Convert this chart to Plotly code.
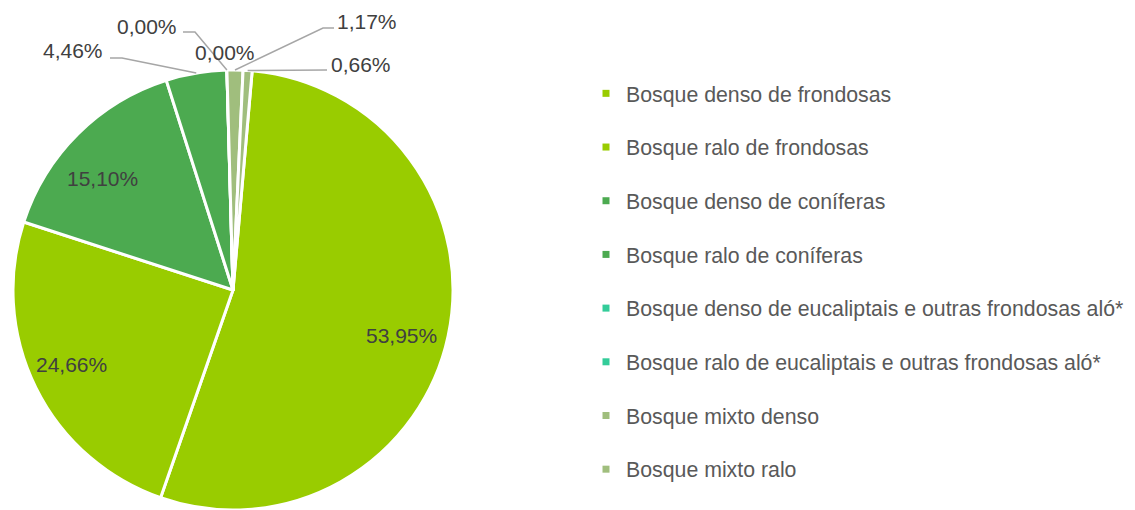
import math
import plotly.graph_objects as go

# ---------------- data ----------------
categories = [
    "Bosque denso de frondosas",
    "Bosque ralo de frondosas",
    "Bosque denso de coníferas",
    "Bosque ralo de coníferas",
    "Bosque denso de eucaliptais e outras frondosas aló*",
    "Bosque ralo de eucaliptais e outras frondosas aló*",
    "Bosque mixto denso",
    "Bosque mixto ralo",
]
shares = [53.95, 24.66, 15.10, 4.46, 0.00, 0.00, 1.17, 0.66]
colors = ["#99CC00", "#99CC00", "#4CAA50", "#4CAA50",
          "#33CC99", "#33CC99", "#A0BE7D", "#A0BE7D"]

# ---------------- layout constants ----------------
W, H = 1135, 510
CX, CY, R = 233, 290, 220          # pie centre / radius in pixels
ROTATION = 5                        # first slice starts 5 deg clockwise from 12 o'clock
FONT = "Liberation Sans, Arial, sans-serif"
LABEL_COLOR = "#404040"
LEGEND_COLOR = "#595959"
LINE_COLOR = "#A6A6A6"

# data-label text centres (pixels) and leader-line elbow points
label_pos = {
    0: dict(text=(401.5, 335), elbow=None),
    1: dict(text=(71.5, 364), elbow=None),
    2: dict(text=(102, 178), elbow=None),
    3: dict(text=(72.5, 51), elbow=[(110, 58), (122, 58)]),
    4: dict(text=(147, 26), elbow=[(183, 32), (195, 32)]),
    5: dict(text=(225, 53), elbow=None),
    6: dict(text=(367, 22), elbow=[(334, 28), (323, 28)]),
    7: dict(text=(361, 64), elbow=[(327, 70)]),
}


def px_to_paper(x, y):
    return x / W, 1 - y / H


def fmt(v):
    return f"{v:.2f}".replace(".", ",") + "%"


total = sum(shares)
fig = go.Figure()

fig.add_trace(go.Pie(
    labels=categories,
    values=shares,
    sort=False,
    direction="clockwise",
    rotation=ROTATION,
    marker=dict(colors=colors, line=dict(color="white", width=3)),
    textinfo="none",
    hoverinfo="label+percent",
    showlegend=False,
    domain=dict(x=[(CX - R) / W, (CX + R) / W], y=[(H - CY - R) / H, (H - CY + R) / H]),
))

# legend entries (one group each so spacing can be controlled)
for name, col in zip(categories, colors):
    fig.add_trace(go.Scatter(
        x=[None], y=[None], mode="markers", name=name, legendgroup=name,
        marker=dict(symbol="square", size=7, color=col),
    ))

annotations = []
shapes = []
cum = 0.0
for i, v in enumerate(shares):
    a0 = ROTATION + 360 * cum / total
    mid = math.radians(a0 + 180 * v / total)
    cum += v
    tx, ty = label_pos[i]["text"]
    elbow = label_pos[i]["elbow"]
    if elbow:
        ex, ey = CX + R * math.sin(mid), CY - R * math.cos(mid)
        pts = elbow + [(ex, ey)]
        path = "M " + " L ".join(
            f"{px_to_paper(x, y)[0]:.5f},{px_to_paper(x, y)[1]:.5f}" for x, y in pts)
        shapes.append(dict(type="path", path=path, xref="paper", yref="paper",
                           line=dict(color=LINE_COLOR, width=1.5)))
    px, py = px_to_paper(tx, ty)
    annotations.append(dict(
        x=px, y=py, xref="paper", yref="paper", text=fmt(v), showarrow=False,
        xanchor="center", yanchor="middle",
        font=dict(family=FONT, size=21, color=LABEL_COLOR),
    ))

fig.update_layout(
    width=W, height=H,
    margin=dict(l=0, r=0, t=0, b=0),
    paper_bgcolor="white", plot_bgcolor="white",
    xaxis=dict(visible=False), yaxis=dict(visible=False),
    annotations=annotations,
    shapes=shapes,
    legend=dict(
        x=586 / W, y=1 - 73 / H, xanchor="left", yanchor="top",
        font=dict(family=FONT, size=21.3, color=LEGEND_COLOR),
        tracegroupgap=23, bgcolor="rgba(0,0,0,0)",
    ),
    showlegend=True,
)

fig.write_html(
    "out.html",
    config={"displayModeBar": False},
    post_script="document.body.style.margin='0';document.body.style.overflow='hidden';",
)
